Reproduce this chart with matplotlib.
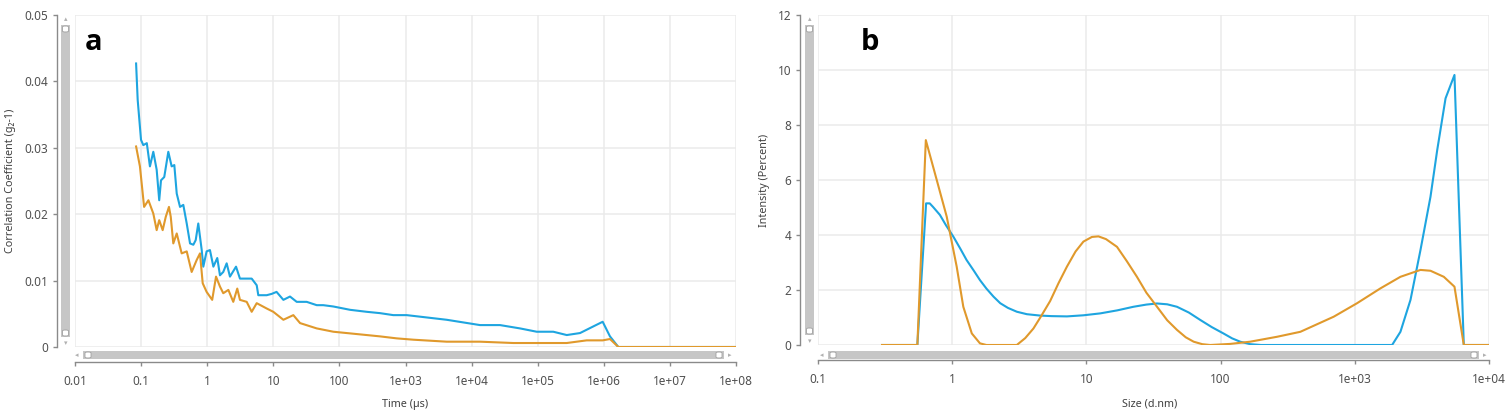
import matplotlib
matplotlib.use("Agg")
import matplotlib.pyplot as plt
from matplotlib.patches import FancyBboxPatch
from matplotlib.ticker import FixedLocator, FixedFormatter, NullLocator

plt.rcParams['font.family'] = ['Noto Sans', 'DejaVu Sans']

# ---------------- data ----------------
a_time_blue = [0.084, 0.0888, 0.0997, 0.108, 0.122, 0.136, 0.153, 0.172, 0.188, 0.200,
               0.224, 0.258, 0.290, 0.318, 0.346, 0.388, 0.435, 0.49, 0.55, 0.617,
               0.67, 0.733, 0.826, 0.873, 0.98, 1.10, 1.24, 1.42, 1.56, 1.75,
               1.97, 2.21, 2.73, 3.13, 4.71, 5.61, 5.93, 7.94, 9.46, 11.2,
               14.2, 17.9, 22.6, 32, 45.4, 57, 81, 145, 259, 411,
               653, 1042, 4200, 13400, 26900, 54000, 96600, 172000, 275000, 437000,
               694000, 962000, 1.24e6, 1.66e6, 1e8]
a_corr_blue = [0.0427, 0.0372, 0.0312, 0.0304, 0.0307, 0.0272, 0.0294, 0.0267, 0.0221, 0.0251,
               0.0256, 0.0294, 0.0272, 0.0274, 0.0231, 0.0211, 0.0214, 0.0186, 0.0156, 0.0154,
               0.0161, 0.0186, 0.0146, 0.0121, 0.0144, 0.0146, 0.0121, 0.0134, 0.0108, 0.0113,
               0.0126, 0.0106, 0.0121, 0.0103, 0.0103, 0.0093, 0.0078, 0.0078, 0.0080, 0.0083,
               0.0071, 0.0076, 0.0068, 0.0068, 0.0063, 0.0063, 0.0061, 0.0056, 0.0053, 0.0051,
               0.0048, 0.0048, 0.0041, 0.0033, 0.0033, 0.0028, 0.0023, 0.0023, 0.0018, 0.0021,
               0.0031, 0.0038, 0.0016, 0.0, 0.0]

a_time_orange = [0.084, 0.096, 0.111, 0.129, 0.153, 0.172, 0.188, 0.212, 0.236, 0.264,
                 0.281, 0.307, 0.346, 0.411, 0.49, 0.582, 0.693, 0.778, 0.855, 0.98,
                 1.19, 1.36, 1.56, 1.75, 2.09, 2.48, 2.85, 3.13, 3.96, 4.71,
                 5.61, 7.94, 10, 14.2, 20.1, 25.4, 45.4, 81, 259, 411,
                 736, 1313, 4200, 13400, 42800, 137000, 275000, 551000, 962000, 1.24e6,
                 1.66e6, 1e8]
a_corr_orange = [0.0302, 0.0272, 0.0211, 0.0221, 0.0201, 0.0176, 0.0191, 0.0176, 0.0196, 0.0211,
                 0.0196, 0.0156, 0.0171, 0.0141, 0.0144, 0.0113, 0.0131, 0.0141, 0.0096, 0.0083,
                 0.0071, 0.0106, 0.0091, 0.0081, 0.0086, 0.0068, 0.0088, 0.0071, 0.0068, 0.0053,
                 0.0066, 0.0058, 0.0053, 0.0041, 0.0048, 0.0036, 0.0028, 0.0023, 0.0018, 0.0016,
                 0.0013, 0.0011, 0.0008, 0.0008, 0.0006, 0.0006, 0.0006, 0.0010, 0.0010, 0.0012,
                 0.0, 0.0]

b_size_blue = [0.30, 0.55, 0.639, 0.68, 0.72, 0.81, 0.90, 1.02, 1.15, 1.28,
               1.45, 1.61, 1.80, 2.03, 2.28, 2.60, 3.03, 3.60, 4.52, 5.50,
               7.16, 9.50, 12.7, 17.0, 22.4, 28.0, 33.6, 40.0, 47.3, 58.0,
               70.6, 86.0, 105, 122, 140, 166, 200, 1897, 2188, 2600,
               3085, 3664, 4113, 4745, 5530, 6490, 10000]
b_int_blue = [0, 0, 5.15, 5.15, 5.02, 4.73, 4.35, 3.94, 3.50, 3.09,
              2.70, 2.36, 2.05, 1.76, 1.52, 1.35, 1.21, 1.12, 1.07, 1.05,
              1.04, 1.08, 1.15, 1.26, 1.39, 1.47, 1.51, 1.48, 1.39, 1.18,
              0.91, 0.65, 0.42, 0.24, 0.12, 0.03, 0, 0, 0.48, 1.64,
              3.45, 5.39, 7.09, 8.97, 9.82, 0, 0]

b_size_orange = [0.30, 0.55, 0.636, 0.767, 0.91, 1.08, 1.21, 1.40, 1.61, 1.80,
                 3.03, 3.50, 4.03, 4.60, 5.37, 6.20, 7.16, 8.30, 9.50, 11.0,
                 12.3, 14.0, 16.9, 20.0, 23.8, 28.0, 33.6, 40.0, 47.3, 55.0,
                 63.0, 73.0, 83.8, 118, 166, 264, 393, 697, 1040, 1553,
                 2188, 3085, 3664, 4605, 5530, 6490, 10000]
b_int_orange = [0, 0, 7.45, 6.0, 4.67, 2.85, 1.39, 0.42, 0.06, 0,
                0, 0.25, 0.60, 1.05, 1.60, 2.25, 2.85, 3.40, 3.76, 3.93,
                3.95, 3.85, 3.57, 3.05, 2.48, 1.90, 1.39, 0.90, 0.55, 0.28,
                0.12, 0.03, 0, 0.04, 0.12, 0.30, 0.48, 1.03, 1.52, 2.06,
                2.48, 2.73, 2.70, 2.48, 2.12, 0, 0]

a_xticks = [0.01, 0.1, 1, 10, 100, 1e3, 1e4, 1e5, 1e6, 1e7, 1e8]
a_xlabels = ['0.01', '0.1', '1', '10', '100', '1e+03', '1e+04', '1e+05', '1e+06', '1e+07', '1e+08']
a_yticks = [0, 0.01, 0.02, 0.03, 0.04, 0.05]
a_ylabels = ['0', '0.01', '0.02', '0.03', '0.04', '0.05']
b_xticks = [0.1, 1, 10, 100, 1e3, 1e4]
b_xlabels = ['0.1', '1', '10', '100', '1e+03', '1e+04']
b_yticks = [0, 2, 4, 6, 8, 10, 12]
b_ylabels = ['0', '2', '4', '6', '8', '10', '12']

BLUE = '#1ea5e0'
ORANGE = '#e0992c'
W, H = 1509, 411

fig = plt.figure(figsize=(W / 100, H / 100), dpi=100)


def fx(x):
    return x / W


def fy(y):
    return 1 - y / H


def make_axes(l, t, r, b):
    return fig.add_axes([fx(l), fy(b), fx(r - l), (b - t) / H])


def style(ax, xt, xl, yt, yl, xlim, ylim):
    ax.set_xscale('log')
    ax.set_xlim(*xlim)
    ax.set_ylim(*ylim)
    ax.xaxis.set_major_locator(FixedLocator(xt))
    ax.xaxis.set_major_formatter(FixedFormatter(xl))
    ax.xaxis.set_minor_locator(NullLocator())
    ax.yaxis.set_major_locator(FixedLocator(yt))
    ax.yaxis.set_major_formatter(FixedFormatter(yl))
    ax.grid(True, color='#ebebeb', linewidth=1.1)
    ax.set_axisbelow(True)
    for s in ['top', 'right']:
        ax.spines[s].set_visible(False)
    ax.spines['left'].set_position(('outward', 13))
    ax.spines['bottom'].set_position(('outward', 11))
    for s in ['left', 'bottom']:
        ax.spines[s].set_color('#8a8a8a')
        ax.spines[s].set_linewidth(1.0)
    ax.tick_params(axis='both', direction='out', length=3, width=1.0,
                   color='#8a8a8a', labelcolor='#505050', labelsize=8.5, pad=3)
    ax.tick_params(axis='x', pad=6)


def scrollbars(vx0, vx1, vy0, vy1, hx0, hx1, hy0, hy1):
    bar = '#c6c6c6'
    fig.patches.append(FancyBboxPatch((fx(vx0), fy(vy1)), fx(vx1 - vx0), (vy1 - vy0) / H,
                                      boxstyle='square,pad=0', fc=bar, ec='none',
                                      transform=fig.transFigure, figure=fig))
    for yy in (vy0 + 4, vy1 - 4):
        fig.patches.append(FancyBboxPatch((fx((vx0 + vx1) / 2 - 3), fy(yy + 3)), fx(6), 6 / H,
                                          boxstyle='round,pad=0,rounding_size=0.002',
                                          fc='white', ec='#a0a0a0', lw=0.6,
                                          transform=fig.transFigure, figure=fig))
    fig.text(fx((vx0 + vx1) / 2), fy(vy0 - 6), '\u25b4', ha='center', va='center',
             fontsize=5, color='#b0b0b0', family='DejaVu Sans')
    fig.text(fx((vx0 + vx1) / 2), fy(vy1 + 6), '\u25be', ha='center', va='center',
             fontsize=5, color='#b0b0b0', family='DejaVu Sans')
    fig.patches.append(FancyBboxPatch((fx(hx0), fy(hy1)), fx(hx1 - hx0), (hy1 - hy0) / H,
                                      boxstyle='square,pad=0', fc=bar, ec='none',
                                      transform=fig.transFigure, figure=fig))
    for xx in (hx0 + 5, hx1 - 5):
        fig.patches.append(FancyBboxPatch((fx(xx - 3), fy((hy0 + hy1) / 2 + 3)), fx(6), 6 / H,
                                          boxstyle='round,pad=0,rounding_size=0.002',
                                          fc='white', ec='#a0a0a0', lw=0.6,
                                          transform=fig.transFigure, figure=fig))
    fig.text(fx(hx0 - 6), fy((hy0 + hy1) / 2), '\u25c2', ha='center', va='center',
             fontsize=5, color='#b0b0b0', family='DejaVu Sans')
    fig.text(fx(hx1 + 6), fy((hy0 + hy1) / 2), '\u25b8', ha='center', va='center',
             fontsize=5, color='#b0b0b0', family='DejaVu Sans')


# ---------------- panel a ----------------
axa = make_axes(75, 15, 736, 347)
style(axa, a_xticks, a_xlabels, a_yticks, a_ylabels, (0.01, 1e8), (0, 0.05))
axa.plot(a_time_blue, a_corr_blue, color=BLUE, lw=1.5, solid_joinstyle='round')
axa.plot(a_time_orange, a_corr_orange, color=ORANGE, lw=1.5, solid_joinstyle='round')
fig.text(fx(85), fy(50), 'a', fontsize=21, fontweight='bold', color='black',
         ha='left', va='baseline', family=['Open Sans', 'DejaVu Sans'])
fig.text(fx(405), fy(404), 'Time (\u00b5s)', fontsize=7.8, color='#404040',
         ha='center', va='center')
fig.text(fx(11), fy(181), 'Correlation Coefficient (g\u2082-1)', fontsize=7.8,
         color='#404040', ha='center', va='center', rotation=90)
scrollbars(61, 70, 25, 337, 83, 724, 351, 359)

# ---------------- panel b ----------------
axb = make_axes(818, 15, 1489, 345)
style(axb, b_xticks, b_xlabels, b_yticks, b_ylabels, (0.1, 1e4), (0, 12))
axb.plot(b_size_blue, b_int_blue, color=BLUE, lw=1.5, solid_joinstyle='round')
axb.plot(b_size_orange, b_int_orange, color=ORANGE, lw=1.5, solid_joinstyle='round')
fig.text(fx(861), fy(50), 'b', fontsize=21, fontweight='bold', color='black',
         ha='left', va='baseline', family=['Open Sans', 'DejaVu Sans'])
fig.text(fx(1150), fy(404), 'Size (d.nm)', fontsize=7.8, color='#404040',
         ha='center', va='center')
fig.text(fx(765), fy(180), 'Intensity (Percent)', fontsize=7.8,
         color='#404040', ha='center', va='center', rotation=90)
scrollbars(805, 814, 25, 335, 828, 1479, 351, 359)

fig.savefig('out.png', dpi=100)
